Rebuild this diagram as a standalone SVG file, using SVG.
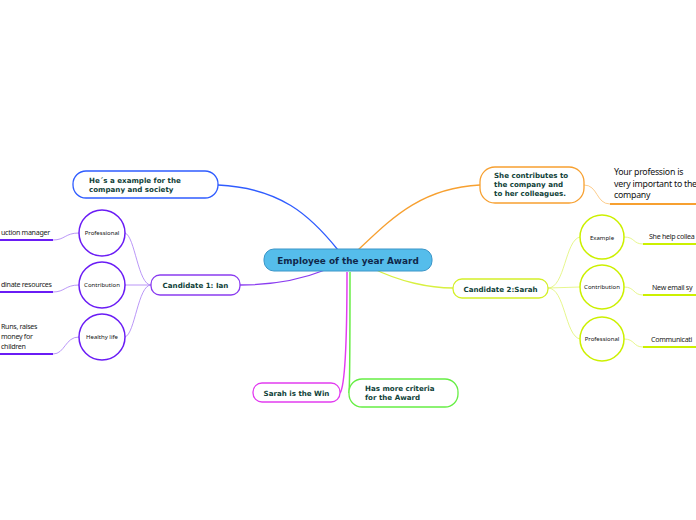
<svg xmlns="http://www.w3.org/2000/svg" width="696" height="520" viewBox="0 0 696 520">
<style>
.t{font-family:"DejaVu Sans",Verdana,sans-serif;font-weight:bold;font-size:7.1px;fill:#0f3f38}
.c{font-family:"DejaVu Sans",Verdana,sans-serif;font-weight:bold;font-size:8.9px;fill:#10284a}
.h{font-family:"Noto Sans","DejaVu Sans",sans-serif;font-size:6px;fill:#111}
.l{font-family:"Noto Sans","Liberation Sans",sans-serif;font-size:7.1px;letter-spacing:-0.3px;fill:#222}
.b{fill:#fff;stroke-width:1.3}
.cn{fill:none}
</style>
<rect width="696" height="520" fill="#fff"/>
<g id="connectors" class="cn">
<path d="M338 250 C310 215 280 188 218 185" stroke="#2f5cff" stroke-width="1.3"/>
<path d="M358 250 C390 220 420 188 480 185" stroke="#f7a030" stroke-width="1.3"/>
<path d="M325 270 C300 280 270 285 240 285" stroke="#8a3cf0" stroke-width="1.3"/>
<path d="M372 268 C400 282 430 288 453 288" stroke="#d8f040" stroke-width="1.3"/>
<path d="M347 272 C347 330 346 385 340 393" stroke="#e23cf0" stroke-width="1.5"/>
<path d="M350 272 C350 330 350 385 349 393" stroke="#66ee44" stroke-width="1.5"/>
<g stroke="#a87cf5" stroke-width="0.8">
<path d="M151 285 C138 285 135 236 125 233"/>
<path d="M151 285 L125 285"/>
<path d="M151 285 C138 285 135 334 125 337"/>
<path d="M79 233 C65 233 65 240 53 240"/>
<path d="M79 285 C65 285 65 292 53 292"/>
<path d="M79 337 C65 337 65 354 53 354"/>
</g>
<g stroke="#e0f470" stroke-width="0.8">
<path d="M548 288 C565 288 565 240 580 237"/>
<path d="M548 288 L580 287"/>
<path d="M548 288 C565 288 565 336 580 339"/>
<path d="M624 237 C635 237 633 244 643 244"/>
<path d="M624 287 C635 287 633 295 643 295"/>
<path d="M624 339 C635 339 633 347 643 347"/>
</g>
<path d="M584 185 C598 185 596 204 610 204" stroke="#fbc070" stroke-width="0.8"/>
</g>
<g id="central">
<rect x="264" y="249" width="168" height="22" rx="10" fill="#55bdeb" stroke="#3a95c8" stroke-width="1"/>
<text class="c" x="348" y="264.3" text-anchor="middle">Employee of the year Award</text>
</g>
<g id="example-ian">
<rect class="b" x="73" y="171" width="145" height="27" rx="13" stroke="#2f5cff"/>
<text class="t" x="89" y="183">He´s a example for the</text>
<text class="t" x="89" y="192">company and society</text>
</g>
<g id="contributes">
<rect class="b" x="480" y="167" width="104" height="36" rx="15" stroke="#f7a030"/>
<text class="t" x="494" y="178">She contributes to</text>
<text class="t" x="494" y="187">the company and</text>
<text class="t" x="494" y="196">to her colleagues.</text>
</g>
<g id="profession">
<text class="l" x="614" y="175" style="font-size:8.8px;fill:#111;letter-spacing:-0.25px">Your profession is</text>
<text class="l" x="614" y="186.5" style="font-size:8.8px;fill:#111;letter-spacing:-0.25px">very important to the</text>
<text class="l" x="614" y="198" style="font-size:8.8px;fill:#111;letter-spacing:-0.25px">company</text>
<line x1="610" y1="204" x2="696" y2="204" stroke="#f7a030" stroke-width="2"/>
</g>
<g id="candidate1">
<rect class="b" x="151" y="275" width="89" height="20" rx="9" stroke="#8a3cf0"/>
<text class="t" x="195.5" y="288" text-anchor="middle">Candidate 1: Ian</text>
</g>
<g id="candidate2">
<rect class="b" x="453" y="279" width="95" height="19" rx="9" stroke="#d4f028"/>
<text class="t" x="500.5" y="291.5" text-anchor="middle">Candidate 2:Sarah</text>
</g>
<g id="sarah-win">
<rect class="b" x="253" y="383" width="87" height="19" rx="9" stroke="#e23cf0"/>
<text class="t" x="296.5" y="395.5" text-anchor="middle">Sarah is the Win</text>
</g>
<g id="criteria">
<rect class="b" x="349" y="379" width="109" height="28" rx="13" stroke="#66ee44"/>
<text class="t" x="365" y="391">Has more criteria</text>
<text class="t" x="365" y="400">for the Award</text>
</g>
<g id="ian-professional">
<circle cx="102" cy="233" r="23" fill="#fff" stroke="#6a1cf5" stroke-width="1.5"/>
<text class="h" x="102" y="235" text-anchor="middle">Professional</text>
</g>
<g id="ian-contribution">
<circle cx="102" cy="285" r="23" fill="#fff" stroke="#6a1cf5" stroke-width="1.5"/>
<text class="h" x="102" y="287" text-anchor="middle">Contribution</text>
</g>
<g id="ian-healthy">
<circle cx="102" cy="337" r="23" fill="#fff" stroke="#6a1cf5" stroke-width="1.5"/>
<text class="h" x="102" y="339" text-anchor="middle">Healthy life</text>
</g>
<g id="ian-leaf1">
<text class="l" x="1" y="235">uction manager</text>
<line x1="0" y1="240" x2="53" y2="240" stroke="#6a1cf5" stroke-width="2"/>
</g>
<g id="ian-leaf2">
<text class="l" x="1" y="287">dinate resources</text>
<line x1="0" y1="292" x2="53" y2="292" stroke="#6a1cf5" stroke-width="2"/>
</g>
<g id="ian-leaf3">
<text class="l" x="1" y="329">Runs, raises</text>
<text class="l" x="1" y="339">money for</text>
<text class="l" x="1" y="349">children</text>
<line x1="0" y1="354" x2="53" y2="354" stroke="#6a1cf5" stroke-width="2"/>
</g>
<g id="sarah-example">
<circle cx="602" cy="237" r="22" fill="#fff" stroke="#ccf000" stroke-width="1.5"/>
<text class="h" x="602" y="239.5" text-anchor="middle" font-size="7.5px">Example</text>
</g>
<g id="sarah-contribution">
<circle cx="602" cy="287" r="22" fill="#fff" stroke="#ccf000" stroke-width="1.5"/>
<text class="h" x="602" y="289" text-anchor="middle" font-size="5.5px">Contribution</text>
</g>
<g id="sarah-professional">
<circle cx="602" cy="339" r="22" fill="#fff" stroke="#ccf000" stroke-width="1.5"/>
<text class="h" x="602" y="341" text-anchor="middle" font-size="5.5px">Professional</text>
</g>
<g id="sarah-leaf1">
<text class="l" x="649" y="238.5">She help collea</text>
<line x1="643" y1="244" x2="696" y2="244" stroke="#ccf000" stroke-width="2"/>
</g>
<g id="sarah-leaf2">
<text class="l" x="652" y="289.5">New email sy</text>
<line x1="643" y1="295" x2="696" y2="295" stroke="#ccf000" stroke-width="2"/>
</g>
<g id="sarah-leaf3">
<text class="l" x="651" y="341.5">Communicati</text>
<line x1="643" y1="347" x2="696" y2="347" stroke="#ccf000" stroke-width="2"/>
</g>
</svg>
